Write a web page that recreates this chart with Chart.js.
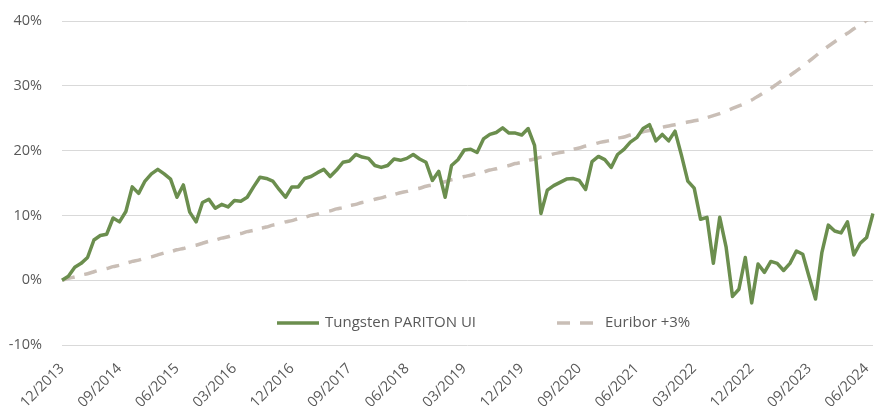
<!DOCTYPE html>
<html>
<head>
<meta charset="utf-8">
<script src="https://cdn.jsdelivr.net/npm/chart.js@4.4.1/dist/chart.umd.min.js"></script>
<style>
  html, body { margin: 0; padding: 0; background: #fff; }
  #wrap { width: 875px; height: 409px; position: relative; }
</style>
</head>
<body>
<div id="wrap"><canvas id="perfChart"></canvas></div>
<script>
// monthly categories, 12/2013 .. 07/2024
const months = [];
for (let y = 2013, m = 12; months.length < 128; m++) {
  if (m > 12) { m = 1; y++; }
  months.push(String(m).padStart(2, '0') + '/' + y);
}

const tickLabels = ['12/2013', '09/2014', '06/2015', '03/2016', '12/2016', '09/2017', '06/2018',
  '03/2019', '12/2019', '09/2020', '06/2021', '03/2022', '12/2022', '09/2023', '06/2024'];

const yTicks = [-10, 0, 10, 20, 30, 40];

const tungsten = [
  0.0, 0.6, 2.0, 2.6, 3.5, 6.2, 6.9, 7.1, 9.6, 9.0,
  10.6, 14.4, 13.4, 15.3, 16.4, 17.1, 16.4, 15.6, 12.8, 14.7,
  10.5, 9.0, 12.0, 12.5, 11.1, 11.7, 11.3, 12.3, 12.2, 12.8,
  14.4, 15.9, 15.7, 15.3, 14.0, 12.8, 14.4, 14.4, 15.7, 16.0,
  16.6, 17.1, 16.0, 17.0, 18.2, 18.4, 19.4, 19.0, 18.8, 17.7,
  17.4, 17.7, 18.7, 18.5, 18.8, 19.4, 18.7, 18.2, 15.4, 16.8,
  12.8, 17.7, 18.6, 20.1, 20.2, 19.7, 21.8, 22.5, 22.8, 23.5,
  22.7, 22.7, 22.4, 23.4, 20.8, 10.3, 13.9, 14.6, 15.1, 15.6,
  15.7, 15.4, 14.0, 18.3, 19.1, 18.6, 17.4, 19.4, 20.2, 21.3,
  22.0, 23.4, 24.0, 21.5, 22.5, 21.5, 23.0, 19.3, 15.3, 14.2,
  9.4, 9.7, 2.6, 9.7, 5.1, -2.5, -1.4, 3.5, -3.5, 2.5,
  1.2, 2.9, 2.6, 1.5, 2.6, 4.5, 4.0, 0.5, -2.9, 4.3,
  8.5, 7.6, 7.3, 9.0, 3.9, 5.7, 6.6, 10.3
];

const euribor = [
  0.0, 0.3, 0.5, 0.8, 1.0, 1.3, 1.6, 1.8, 2.1, 2.3,
  2.6, 2.9, 3.1, 3.4, 3.6, 3.9, 4.2, 4.4, 4.7, 4.9,
  5.2, 5.4, 5.7, 6.0, 6.2, 6.5, 6.7, 7.0, 7.2, 7.5,
  7.7, 8.0, 8.2, 8.5, 8.7, 9.0, 9.2, 9.5, 9.7, 10.0,
  10.2, 10.5, 10.7, 11.0, 11.2, 11.5, 11.7, 12.0, 12.2, 12.5,
  12.7, 13.0, 13.2, 13.5, 13.7, 14.0, 14.2, 14.5, 14.7, 15.0,
  15.2, 15.5, 15.7, 16.0, 16.2, 16.5, 16.7, 17.0, 17.2, 17.5,
  17.7, 18.0, 18.2, 18.5, 18.7, 19.0, 19.2, 19.5, 19.7, 19.9,
  20.2, 20.4, 20.7, 20.9, 21.2, 21.4, 21.6, 21.9, 22.1, 22.4,
  22.6, 22.9, 23.1, 23.3, 23.6, 23.8, 24.0, 24.2, 24.4, 24.6,
  24.8, 25.1, 25.4, 25.7, 26.1, 26.5, 26.9, 27.3, 27.8, 28.4,
  29.0, 29.6, 30.3, 31.0, 31.6, 32.3, 33.0, 33.8, 34.6, 35.4,
  36.1, 36.8, 37.5, 38.1, 38.8, 39.4, 40.1, 40.7
];

const TEXT = '#595959';
const FONT = "'Open Sans', sans-serif";

// legend sits inside the plot, just above the -10% line
const legendInPlot = {
  id: 'legendInPlot',
  afterDatasetsDraw(chart) {
    const { ctx, chartArea } = chart;
    let x = chartArea.left + 215;
    const y = chartArea.bottom - 22;
    ctx.save();
    ctx.font = '15px ' + FONT;
    ctx.textBaseline = 'middle';
    chart.data.datasets.forEach(ds => {
      ctx.strokeStyle = ds.borderColor;
      ctx.lineWidth = ds.borderWidth;
      ctx.setLineDash(ds.borderDash || []);
      ctx.beginPath(); ctx.moveTo(x, y); ctx.lineTo(x + 42, y); ctx.stroke();
      ctx.setLineDash([]);
      ctx.fillStyle = TEXT;
      ctx.fillText(ds.label, x + 48, y);
      x += 48 + ctx.measureText(ds.label).width + 81;
    });
    ctx.restore();
  }
};

new Chart(document.getElementById('perfChart'), {
  type: 'line',
  data: {
    labels: months,
    datasets: [
      {
        label: 'Tungsten PARITON UI',
        data: tungsten,
        borderColor: '#6B8E4E',
        borderWidth: 3.5,
        pointRadius: 0,
        tension: 0,
        borderJoinStyle: 'round'
      },
      {
        label: 'Euribor +3%',
        data: euribor,
        borderColor: '#C9BEB6',
        borderWidth: 3.5,
        borderDash: [13, 10],
        pointRadius: 0,
        tension: 0.2
      }
    ]
  },
  options: {
    responsive: true, maintainAspectRatio: false, animation: false,
    layout: { padding: { left: 0, right: 2, top: 21, bottom: 0 } },
    plugins: { legend: { display: false }, tooltip: { enabled: false } },
    scales: {
      x: {
        grid: { display: false }, border: { display: false },
        afterFit: s => { s.height = 64; s.paddingLeft = 0; s.paddingRight = 0; },
        ticks: {
          autoSkip: false, maxRotation: 45, minRotation: 45, padding: 7,
          color: TEXT, font: { family: FONT, size: 14.5 },
          callback(v) {
            const lab = this.getLabelForValue(v);
            return tickLabels.includes(lab) ? lab : '';
          }
        }
      },
      y: {
        min: yTicks[0], max: yTicks[yTicks.length - 1],
        afterBuildTicks: axis => { axis.ticks = yTicks.map(v => ({ value: v })); },
        afterFit: s => { s.width = 62; s.paddingTop = 0; s.paddingBottom = 0; },
        grid: { color: '#D9D9D9', drawTicks: false },
        border: { display: false },
        ticks: {
          padding: 20, color: TEXT, font: { family: FONT, size: 14.5 },
          callback: v => v + '%'
        }
      }
    }
  },
  plugins: [legendInPlot]
});
</script>
</body>
</html>
